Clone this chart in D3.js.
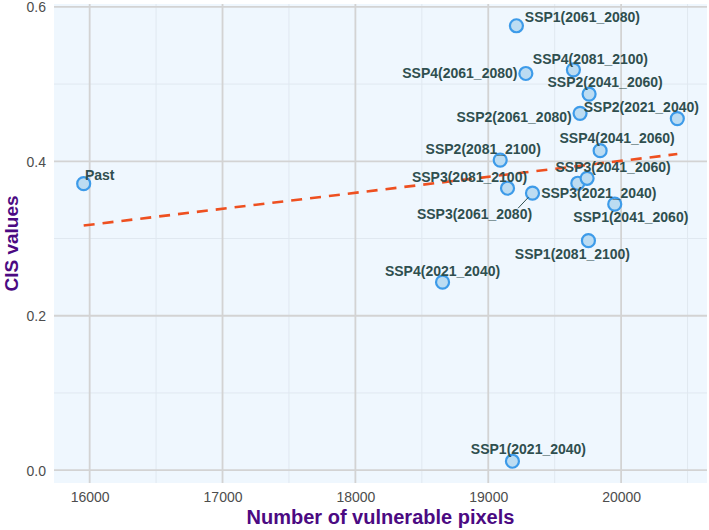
<!DOCTYPE html>
<html lang="en">
<head>
  <meta charset="UTF-8">
  <title>CIS values vs vulnerable pixels</title>
  <script src="https://d3js.org/d3.v7.min.js"></script>
  <style>
    body { margin: 0; background: #ffffff; }
    text { font-family: "Liberation Sans", Arial, sans-serif; }
  </style>
</head>
<body>
<div class="main"></div>
<script>
  // scenario names, x = number of vulnerable pixels, y = CIS value
  const names = ["Past",
    "SSP1(2021_2040)", "SSP1(2041_2060)", "SSP1(2061_2080)", "SSP1(2081_2100)",
    "SSP2(2021_2040)", "SSP2(2041_2060)", "SSP2(2061_2080)", "SSP2(2081_2100)",
    "SSP3(2021_2040)", "SSP3(2041_2060)", "SSP3(2061_2080)", "SSP3(2081_2100)",
    "SSP4(2021_2040)", "SSP4(2041_2060)", "SSP4(2061_2080)", "SSP4(2081_2100)"];
  const pixels = [15955,
    19182, 19952, 19212, 19754,
    20423, 19759, 19691, 19090,
    19674, 19744, 19333, 19145,
    18656, 19842, 19283, 19641];
  const cis = [0.371,
    0.0116, 0.3445, 0.5755, 0.2972,
    0.4553, 0.487, 0.4621, 0.4016,
    0.3716, 0.378, 0.3587, 0.3651,
    0.2435, 0.4138, 0.5137, 0.5184];

  const xTicks = [16000, 17000, 18000, 19000, 20000];
  const yTicks = [0.0, 0.2, 0.4, 0.6];

  // repelled label placement (offset of label centre / baseline from the point, px)
  const labelOffset = {
    "Past": [16, -4],
    "SSP1(2021_2040)": [16, -7], "SSP1(2041_2060)": [16, 18],
    "SSP1(2061_2080)": [66, -4], "SSP1(2081_2100)": [-16, 18],
    "SSP2(2021_2040)": [-36, -7], "SSP2(2041_2060)": [16, -7],
    "SSP2(2061_2080)": [-66, 9], "SSP2(2081_2100)": [-17, -6],
    "SSP3(2021_2040)": [21, 15], "SSP3(2041_2060)": [26, -6],
    "SSP3(2061_2080)": [-58, 26], "SSP3(2081_2100)": [-38, -6],
    "SSP4(2021_2040)": [0, -6], "SSP4(2041_2060)": [17, -8],
    "SSP4(2061_2080)": [-66, 5], "SSP4(2081_2100)": [17, -6]
  };

  const data = names.map((n, i) => ({name: n, x: pixels[i], y: cis[i]}));

  let width = 709, height = 530;
  let pLeft = 54, pRight = 707, pTop = 4, pBottom = 483;

  function expand(ext) {
    let pad = (ext[1] - ext[0]) * 0.05;
    return [ext[0] - pad, ext[1] + pad];
  }

  let xScale = d3.scaleLinear().domain(expand(d3.extent(pixels))).range([pLeft, pRight]);
  let yScale = d3.scaleLinear().domain(expand(d3.extent(cis))).range([pBottom, pTop]);

  let svg = d3.select(".main").append("svg")
    .attr("width", width)
    .attr("height", height);

  svg.append("rect")
    .attr("x", pLeft).attr("y", pTop)
    .attr("width", pRight - pLeft).attr("height", pBottom - pTop)
    .style("fill", "#eff7fe");

  let grid = svg.append("g");
  // minor grid
  let xMinor = [15500, 16500, 17500, 18500, 19500, 20500].filter(v => xScale(v) > pLeft && xScale(v) < pRight);
  let yMinor = [0.1, 0.3, 0.5];
  grid.selectAll(".xminor").data(xMinor).join("line")
    .attr("class", "xminor")
    .attr("x1", d => xScale(d)).attr("x2", d => xScale(d))
    .attr("y1", pTop).attr("y2", pBottom)
    .style("stroke", "#e0e8f0").style("stroke-width", 1);
  grid.selectAll(".yminor").data(yMinor).join("line")
    .attr("class", "yminor")
    .attr("y1", d => yScale(d)).attr("y2", d => yScale(d))
    .attr("x1", pLeft).attr("x2", pRight)
    .style("stroke", "#e0e8f0").style("stroke-width", 1);
  // major grid
  grid.selectAll(".xmajor").data(xTicks).join("line")
    .attr("class", "xmajor")
    .attr("x1", d => xScale(d)).attr("x2", d => xScale(d))
    .attr("y1", pTop).attr("y2", pBottom)
    .style("stroke", "#d3d3d3").style("stroke-width", 1.8);
  grid.selectAll(".ymajor").data(yTicks).join("line")
    .attr("class", "ymajor")
    .attr("y1", d => yScale(d)).attr("y2", d => yScale(d))
    .attr("x1", pLeft).attr("x2", pRight)
    .style("stroke", "#d3d3d3").style("stroke-width", 1.8);

  // axes (text only, ggplot minimal style)
  let xAxis = d3.axisBottom(xScale).tickValues(xTicks).tickSize(0).tickPadding(9).tickFormat(d3.format("d"));
  let yAxis = d3.axisLeft(yScale).tickValues(yTicks).tickSize(0).tickPadding(8).tickFormat(d3.format(".1f"));

  let gx = svg.append("g").attr("transform", `translate(0, ${pBottom})`).call(xAxis);
  let gy = svg.append("g").attr("transform", `translate(${pLeft}, 0)`).call(yAxis);
  [gx, gy].forEach(g => {
    g.select(".domain").remove();
    g.selectAll("text").style("font-size", "14px").style("fill", "#4d4d4d")
      .style("font-family", "Liberation Sans, Arial, sans-serif");
  });
  // keep the top y label inside the picture
  gy.selectAll("text").attr("dy", "0.36em");

  // linear fit (geom_smooth, method lm)
  let mx = d3.mean(pixels), my = d3.mean(cis);
  let slope = d3.sum(data, d => (d.x - mx) * (d.y - my)) / d3.sum(data, d => (d.x - mx) ** 2);
  let icpt = my - slope * mx;
  let xr = d3.extent(pixels);
  let fit = xr.map(v => [v, icpt + slope * v]);
  svg.append("path")
    .datum(fit)
    .attr("d", d3.line().x(d => xScale(d[0])).y(d => yScale(d[1])))
    .style("fill", "none")
    .style("stroke", "#ee5020")
    .style("stroke-width", 2.6)
    .style("stroke-dasharray", "11,8");

  // points
  svg.append("g").selectAll("circle").data(data).join("circle")
    .attr("cx", d => xScale(d.x))
    .attr("cy", d => yScale(d.y))
    .attr("r", 6.5)
    .style("fill", "#bcdcf2")
    .style("stroke", "#3d9be9")
    .style("stroke-width", 2.2);

  // labels
  let lab = svg.append("g");
  data.forEach(d => {
    let off = labelOffset[d.name];
    let px = xScale(d.x), py = yScale(d.y);
    let t = lab.append("text")
      .attr("x", px + off[0])
      .attr("y", py + off[1])
      .attr("text-anchor", "middle")
      .style("font-size", "14px")
      .style("font-weight", "bold")
      .style("fill", "#2f4f4f")
      .text(d.name);
    if (d.name === "SSP3(2061_2080)") {
      let bb = t.node().getBBox();
      lab.append("line")
        .attr("x1", px - 4).attr("y1", py + 4)
        .attr("x2", bb.x + bb.width - 14).attr("y2", bb.y + 2)
        .style("stroke", "#2f4f4f").style("stroke-width", 1);
    }
  });

  // axis titles
  svg.append("text")
    .attr("x", (pLeft + pRight) / 2).attr("y", 524)
    .attr("text-anchor", "middle")
    .style("font-size", "20px").style("font-weight", "bold").style("fill", "#4b0a82")
    .text("Number of vulnerable pixels");
  svg.append("text")
    .attr("transform", `translate(18, ${(pTop + pBottom) / 2}) rotate(-90)`)
    .attr("text-anchor", "middle")
    .style("font-size", "19px").style("font-weight", "bold").style("fill", "#4b0a82")
    .text("CIS values");
</script>
</body>
</html>
